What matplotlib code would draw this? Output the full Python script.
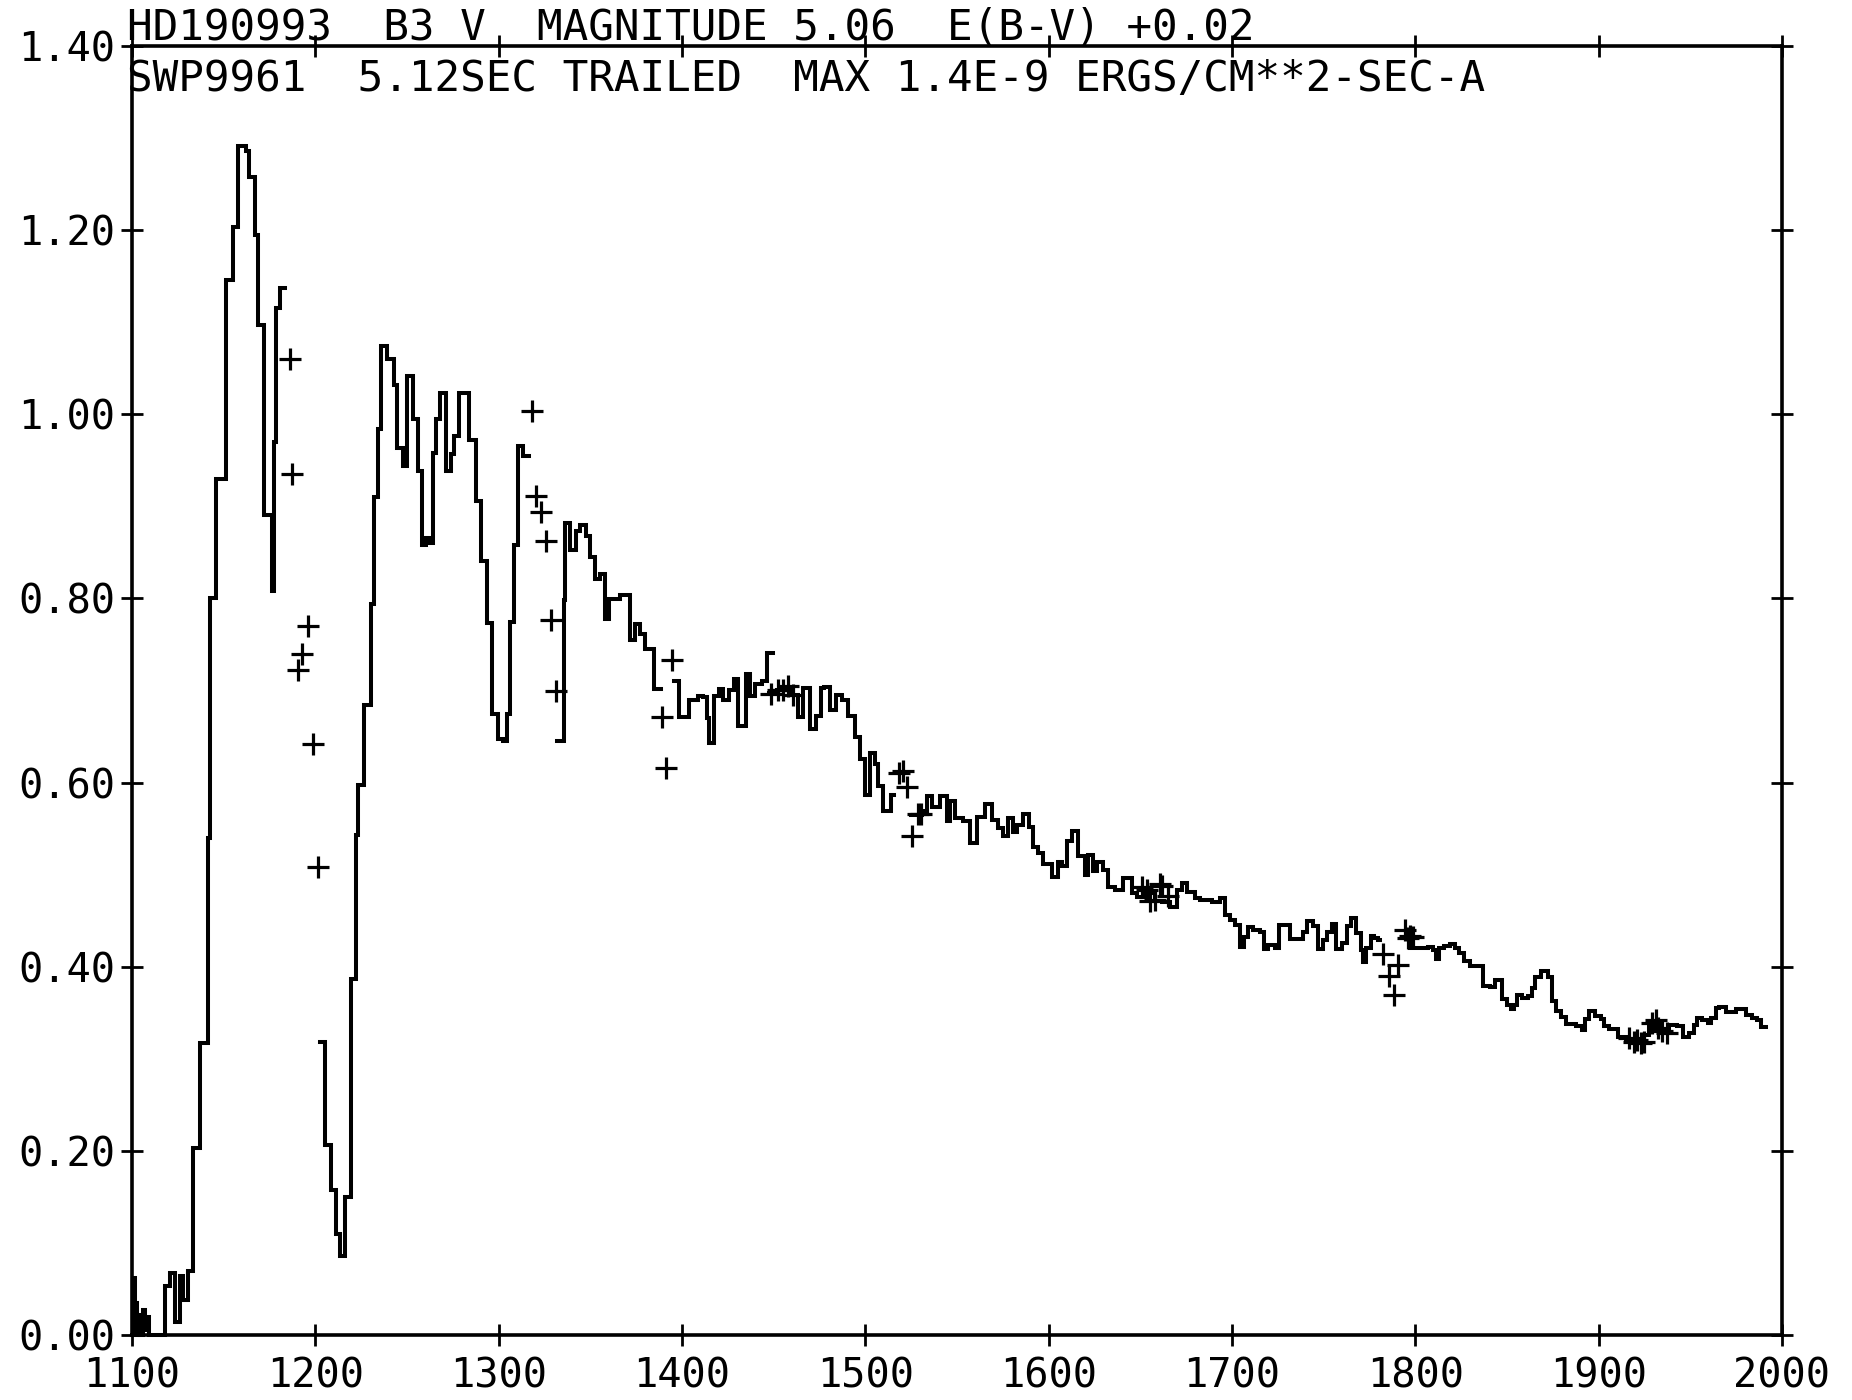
#!/usr/bin/python3

import numpy as np
import matplotlib
matplotlib.use("Agg")
import matplotlib.pyplot as plt


GAP = np.nan

TITLE_1 = "HD190993  B3 V  MAGNITUDE 5.06  E(B-V) +0.02"
TITLE_2 = "SWP9961  5.12SEC TRAILED  MAX 1.4E-9 ERGS/CM**2-SEC-A"

X_TICKS = [1100, 1200, 1300, 1400, 1500, 1600, 1700, 1800, 1900, 2000]
X_LABELS = ["1100", "1200", "1300", "1400", "1500", "1600", "1700", "1800", "1900", "2000"]
Y_TICKS = [0.0, 0.2, 0.4, 0.6, 0.8, 1.0, 1.2, 1.4]
Y_LABELS = ["0.00", "0.20", "0.40", "0.60", "0.80", "1.00", "1.20", "1.40"]

# step start wavelengths (A); a GAP flux lifts the pen up to the next start
WAVE = [
  1100.0, 1100.3, 1101.5, 1102.5, 1103.5, 1104.5, 1106.0, 1107.0, 1108.0, 1109.5,
  1118.0, 1120.7, 1123.4, 1126.2, 1128.0, 1130.7, 1133.5, 1137.1, 1141.6, 1142.5,
  1146.0, 1151.0, 1154.9, 1157.6, 1162.0, 1164.0, 1166.8, 1168.6, 1171.9, 1176.4,
  1177.5, 1178.3, 1180.7, 1183.4,
  1202.6, 1205.5, 1208.3, 1211.0, 1213.7, 1216.4, 1219.2, 1222.0, 1223.0, 1226.7,
  1230.4, 1232.2, 1234.4, 1235.8, 1239.1, 1243.1, 1244.4, 1247.7, 1250.0, 1253.1,
  1255.9, 1258.0, 1260.4, 1262.2, 1264.4, 1265.8, 1268.2, 1271.3, 1274.0, 1275.8,
  1278.6, 1284.0, 1287.7, 1290.4, 1293.7, 1296.2, 1299.8, 1302.2, 1304.6, 1306.4,
  1308.6, 1310.7, 1313.1, 1316.7,
  1331.7, 1335.4, 1335.9, 1338.7, 1342.1, 1344.1, 1347.6, 1350.0, 1352.7, 1355.4,
  1357.8, 1360.3, 1366.3, 1371.8, 1374.5, 1377.2, 1380.0, 1384.5, 1388.7,
  1395.8, 1398.2, 1404.0, 1408.7, 1411.3, 1413.6, 1414.5, 1417.3, 1420.0, 1422.2,
  1425.5, 1428.2, 1430.5, 1434.9, 1437.3, 1440.0, 1443.6, 1446.3, 1449.4,
  1447.5, 1452.0, 1456.0, 1459.5, 1463.3, 1466.0, 1469.7, 1473.3, 1475.7, 1477.5,
  1480.6, 1484.2, 1487.0, 1490.6, 1494.3, 1497.0, 1499.7, 1502.4, 1505.2, 1507.0,
  1509.7, 1513.9, 1515.5,
  1525.0, 1530.7, 1533.4, 1536.2, 1540.7, 1544.4, 1546.2, 1548.9, 1553.5, 1557.1,
  1560.7, 1565.2, 1568.9, 1572.6, 1575.3, 1578.0, 1580.7, 1582.5, 1586.2, 1589.5,
  1591.7, 1594.4, 1597.1, 1601.6, 1605.3, 1607.1, 1609.8, 1612.5, 1616.2, 1619.8,
  1621.6, 1624.4, 1626.2, 1629.8, 1632.6, 1636.2, 1640.8, 1645.3, 1648.0, 1653.0,
  1658.0, 1662.0, 1666.2, 1669.8, 1672.6, 1675.3, 1679.8, 1682.5, 1688.9, 1693.4,
  1696.2, 1698.9, 1701.6, 1704.1, 1706.8, 1708.7, 1711.4, 1715.0, 1717.7, 1719.6,
  1723.2, 1725.6, 1731.4, 1738.7, 1740.9, 1744.1, 1746.9, 1749.9, 1751.8, 1754.7,
  1756.8, 1760.1, 1762.7, 1765.0, 1767.7, 1770.5, 1771.5, 1773.2, 1775.9, 1777.7,
  1779.6, 1780.8,
  1797.0, 1806.9, 1809.6, 1811.4, 1812.9, 1815.9, 1818.7, 1821.4, 1823.8, 1826.8,
  1829.6, 1836.9, 1840.5, 1843.2, 1847.5, 1850.2, 1852.0, 1853.8, 1855.7, 1858.4,
  1861.2, 1863.5, 1865.3, 1868.4, 1872.1, 1874.8, 1876.6, 1879.3, 1882.0, 1887.5,
  1890.8, 1892.6, 1894.8, 1898.0, 1901.1, 1903.0, 1905.7, 1910.3, 1914.8, 1918.4,
  1924.8, 1927.5, 1933.0, 1938.4, 1943.0, 1945.8, 1949.3, 1952.1, 1953.9, 1956.6,
  1959.4, 1961.1, 1963.9, 1965.7, 1969.3, 1974.8, 1980.6, 1983.9, 1986.6, 1988.4,
  1991.2,
]

# flux in units of 1.0E-9 erg/cm2/s/A
FLUX = [
  0.000, 0.062, 0.035, 0.000, 0.022, 0.000, 0.028, 0.006, 0.020, 0.000,
  0.054, 0.068, 0.015, 0.065, 0.039, 0.070, 0.203, 0.317, 0.540, 0.800,
  0.930, 1.146, 1.203, 1.291, 1.285, 1.257, 1.194, 1.097, 0.890, 0.808,
  0.970, 1.115, 1.137, GAP,
  0.318, 0.207, 0.158, 0.110, 0.086, 0.150, 0.387, 0.543, 0.597, 0.684,
  0.794, 0.910, 0.984, 1.074, 1.060, 1.032, 0.963, 0.944, 1.041, 0.995,
  0.938, 0.858, 0.866, 0.860, 0.958, 0.995, 1.023, 0.938, 0.957, 0.976,
  1.023, 0.972, 0.906, 0.840, 0.773, 0.675, 0.647, 0.645, 0.674, 0.774,
  0.858, 0.965, 0.955, GAP,
  0.645, 0.798, 0.882, 0.853, 0.873, 0.880, 0.868, 0.845, 0.821, 0.826,
  0.778, 0.799, 0.804, 0.755, 0.772, 0.761, 0.745, 0.702, GAP,
  0.710, 0.671, 0.690, 0.694, 0.693, 0.670, 0.643, 0.694, 0.702, 0.690,
  0.701, 0.712, 0.661, 0.718, 0.694, 0.707, 0.710, 0.741, GAP,
  0.697, 0.700, 0.703, 0.695, 0.671, 0.703, 0.658, 0.672, 0.703, 0.704,
  0.679, 0.695, 0.690, 0.672, 0.650, 0.626, 0.587, 0.632, 0.620, 0.596,
  0.569, 0.587, GAP,
  0.565, 0.569, 0.586, 0.574, 0.585, 0.558, 0.580, 0.562, 0.558, 0.535,
  0.563, 0.577, 0.559, 0.551, 0.542, 0.562, 0.546, 0.554, 0.566, 0.552,
  0.530, 0.524, 0.512, 0.498, 0.514, 0.510, 0.537, 0.548, 0.520, 0.500,
  0.521, 0.504, 0.514, 0.505, 0.487, 0.484, 0.496, 0.480, 0.476, 0.480,
  0.472, 0.470, 0.465, 0.484, 0.491, 0.481, 0.475, 0.473, 0.470, 0.475,
  0.456, 0.451, 0.446, 0.422, 0.432, 0.443, 0.440, 0.438, 0.419, 0.424,
  0.421, 0.445, 0.430, 0.438, 0.450, 0.444, 0.419, 0.429, 0.438, 0.447,
  0.419, 0.426, 0.444, 0.453, 0.437, 0.418, 0.405, 0.421, 0.433, 0.431,
  0.429, GAP,
  0.420, 0.422, 0.418, 0.409, 0.421, 0.423, 0.425, 0.421, 0.415, 0.406,
  0.401, 0.379, 0.378, 0.386, 0.365, 0.359, 0.354, 0.359, 0.370, 0.366,
  0.368, 0.377, 0.389, 0.396, 0.389, 0.363, 0.352, 0.346, 0.338, 0.336,
  0.332, 0.343, 0.352, 0.347, 0.343, 0.336, 0.333, 0.324, 0.320, 0.319,
  0.326, 0.335, 0.331, 0.337, 0.336, 0.324, 0.328, 0.337, 0.344, 0.342,
  0.339, 0.344, 0.355, 0.357, 0.351, 0.354, 0.348, 0.345, 0.342, 0.335,
  0.335,
]

# flagged points plotted as crosses
CROSS_WAVE = [
  1185.9, 1187.5, 1190.7, 1192.6, 1196.2, 1198.5, 1201.3,
  1318.0, 1320.1, 1322.9, 1325.6, 1328.7, 1331.4,
  1388.9, 1391.3, 1394.7,
  1448.8, 1452.4, 1455.1, 1457.9, 1460.6,
  1518.2, 1520.6, 1522.7, 1525.3, 1528.6, 1530.4,
  1650.7, 1653.5, 1655.3, 1658.0, 1660.7, 1661.6, 1665.3,
  1782.3, 1785.6, 1788.1, 1790.5, 1794.1, 1796.0, 1796.9, 1798.7,
  1916.6, 1919.3, 1921.1, 1922.9, 1924.7, 1929.3, 1931.1, 1932.1, 1934.8, 1937.5,
]
CROSS_FLUX = [
  1.060, 0.935, 0.722, 0.740, 0.770, 0.642, 0.508,
  1.003, 0.911, 0.894, 0.862, 0.776, 0.699,
  0.671, 0.616, 0.733,
  0.696, 0.700, 0.700, 0.705, 0.695,
  0.610, 0.613, 0.595, 0.542, 0.566, 0.566,
  0.487, 0.484, 0.472, 0.473, 0.490, 0.488, 0.477,
  0.414, 0.390, 0.370, 0.402, 0.440, 0.431, 0.434, 0.432,
  0.323, 0.319, 0.321, 0.317, 0.319, 0.339, 0.342, 0.334, 0.330, 0.328,
]


def setup_axes(fig):
  ax = fig.add_axes([0.0713, 0.0461, 0.8909, 0.9214])
  ax.set_xlim(1100, 2000)
  ax.set_ylim(0, 1.4)
  ax.set_xticks(X_TICKS)
  ax.set_xticklabels(X_LABELS)
  ax.set_yticks(Y_TICKS)
  ax.set_yticklabels(Y_LABELS)
  ax.tick_params(direction="inout", length=16, width=2, top=True, right=True,
                 labelsize=29, colors="black")
  ax.tick_params(axis="x", pad=7)
  ax.tick_params(axis="y", pad=4)
  for spine in ax.spines.values():
    spine.set_linewidth(2.6)
  return ax


def draw_spectrum(ax):
  ax.plot(WAVE, FLUX, drawstyle="steps-post", color="black", lw=2.9,
          solid_joinstyle="miter", clip_on=False)
  ax.plot(CROSS_WAVE, CROSS_FLUX, "+", color="black", ms=16, mew=2.3)


def draw_header(ax):
  ax.text(-0.003, 1.004, TITLE_1, transform=ax.transAxes, fontsize=30.7,
          ha="left", va="baseline")
  ax.text(-0.003, 0.990, TITLE_2, transform=ax.transAxes, fontsize=30.7,
          ha="left", va="top")


def main():
  plt.rcParams["font.family"] = ["DejaVu Sans Mono"]
  fig = plt.figure(figsize=(18.52, 14.0), dpi=100)
  fig.patch.set_facecolor("white")
  ax = setup_axes(fig)
  draw_spectrum(ax)
  draw_header(ax)
  fig.savefig("out.png", dpi=100, facecolor="white")


if __name__ == "__main__":
  main()
